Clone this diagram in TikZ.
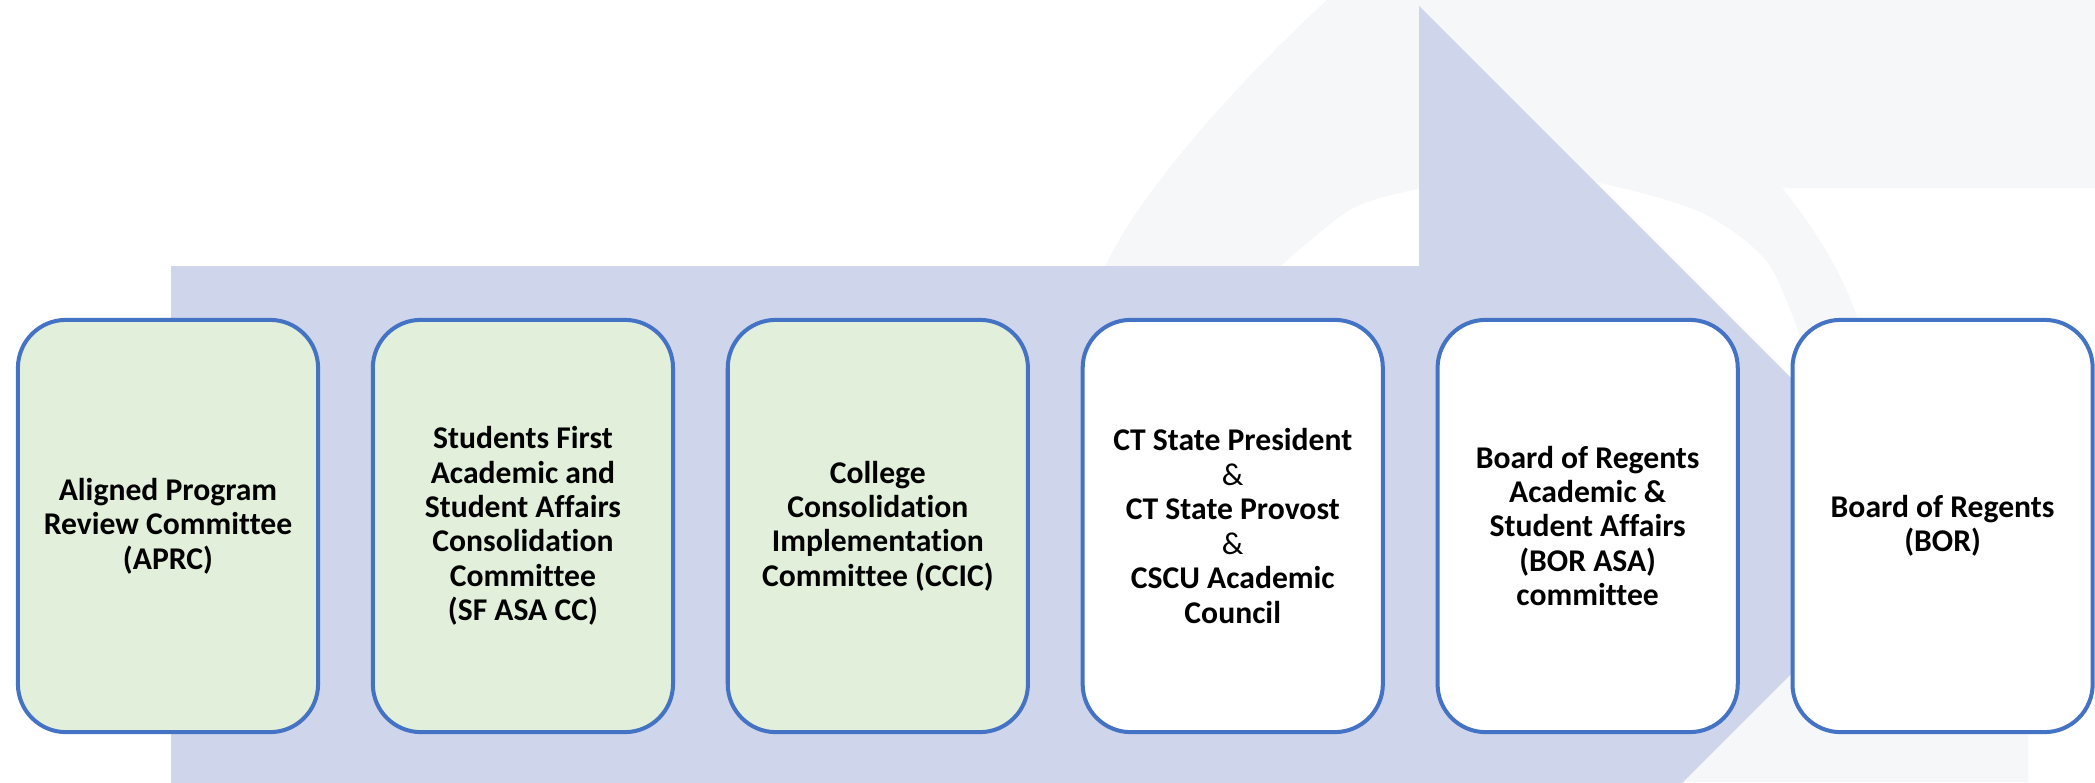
\documentclass[tikz,border=0pt]{standalone}
\usepackage{fontspec}
\setmainfont{Carlito}[Ligatures=CommonOff]
\usepackage{xcolor}
\usepackage{tikz}
\usetikzlibrary{positioning}

\definecolor{arrowfill}{HTML}{CFD5EA}
\definecolor{boxline}{HTML}{4472C4}
\definecolor{greenfill}{HTML}{E2EFDA}
\definecolor{markfill}{HTML}{F6F7F9}

\tikzset{
    stagebox/.style={draw=boxline, line width=1.14pt, rounded corners=0.48cm,
        minimum width=3.0cm, minimum height=4.12cm, inner sep=2pt, align=center,
        font=\fontsize{9}{9.8}\selectfont\bfseries},
    greenstage/.style={stagebox, fill=greenfill},
    whitestage/.style={stagebox, fill=white},
}

\begin{document}
\begin{tikzpicture}[x=0.01cm, y=-0.01cm]
% Canvas
\def\W{2095}
\def\H{782}
\def\gap{0.507cm}
\clip (0,0) rectangle (\W,\H);
\fill[white] (0,0) rectangle (\W,\H);

% Faint mark behind the arrow
\fill[markfill] (1105,267) .. controls (1140,190) and (1245,75) .. (1327,0)
    -- (\W,0) -- (\W,188) -- (1782,188)
    .. controls (1820,235) and (1845,280) .. (1858,320)
    -- (2028,620) -- (2028,\H) -- (1000,\H) -- cycle;
\fill[white] plot[smooth] coordinates {(1280,267) (1350,210) (1418,189) (1510,176)
    (1594,182) (1700,212) (1767,262) (1800,337)}
    -- (1800,500) -- (1270,500) -- cycle;

% Block arrow
\fill[arrowfill] (171,266) -- (1419,266) -- (1419,6) -- (1939,526)
    -- (1419,1046) -- (1419,786) -- (171,786) -- cycle;

% Stages
\node[greenstage] (aprc) at (168,526) {Aligned Program\\Review Committee\\(APRC)};
\node[greenstage, right=\gap of aprc] (sfasacc) {Students First\\Academic and\\Student Affairs\\Consolidation\\Committee\\(SF ASA CC)};
\node[greenstage, right=\gap of sfasacc] (ccic) {College\\Consolidation\\Implementation\\Committee (CCIC)};
\node[whitestage, right=\gap of ccic] (ctstate) {CT State President\\{\mdseries\&}\\CT State Provost\\{\mdseries\&}\\CSCU Academic\\Council};
\node[whitestage, right=\gap of ctstate] (borasa) {Board of Regents\\Academic \&\\Student Affairs\\(BOR ASA)\\committee};
\node[whitestage, right=\gap of borasa] (bor) {Board of Regents\\(BOR)};

\end{tikzpicture}
\end{document}
